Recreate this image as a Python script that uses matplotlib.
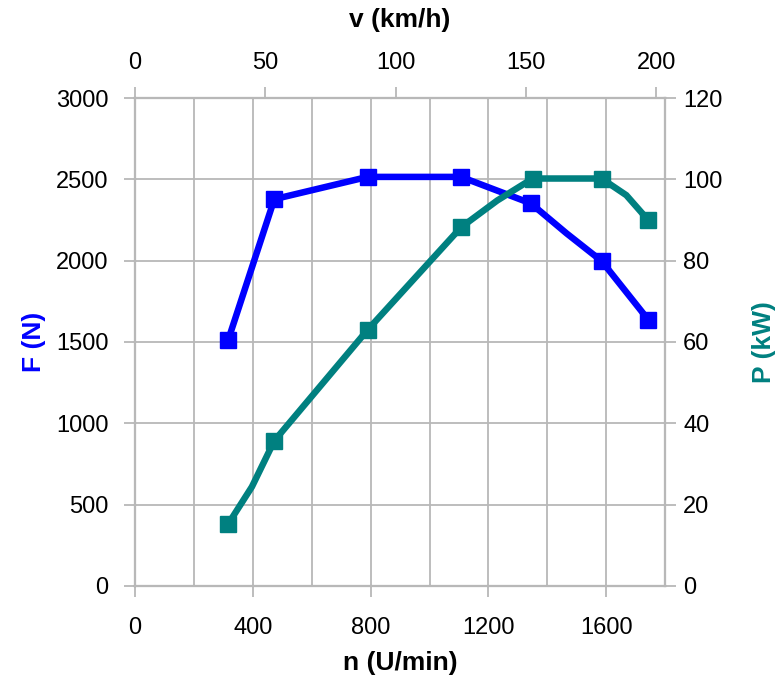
import matplotlib.pyplot as plt
from matplotlib.ticker import MultipleLocator

plt.rcParams['font.family'] = ['Liberation Sans', 'DejaVu Sans']

# Zugkraft F (N) ueber Drehzahl n (U/min)
n_F = [316, 473, 790, 1107, 1344, 1465, 1584, 1742]
F = [1510, 2378, 2515, 2515, 2352, 2168, 1998, 1638]
F_marks = [0, 1, 2, 3, 4, 6, 7]

# Leistung P (kW) ueber Drehzahl n (U/min)
n_P = [316, 397, 473, 790, 1107, 1230, 1350, 1584, 1668, 1742]
P = [15.2, 24.4, 35.7, 63.0, 88.2, 94.8, 100.2, 100.2, 96.1, 90.0]
P_marks = [0, 2, 3, 4, 6, 7, 9]

blue = '#0000ff'
teal = '#008080'
gray = '#b8b8b8'
fs = 17
lfs = 19

fig = plt.figure(figsize=(7.78, 6.82), dpi=100)
ax = fig.add_axes([0.1735, 0.1408, 0.6815, 0.7155])
ax2 = ax.twinx()
ax3 = ax.twiny()

ax.set_xlim(0, 1800)
ax.set_ylim(0, 3000)
ax2.set_ylim(0, 120)
ax3.set_xlim(0, 203.4)

ax.xaxis.set_major_locator(MultipleLocator(400))
ax.xaxis.set_minor_locator(MultipleLocator(200))
ax.yaxis.set_major_locator(MultipleLocator(500))
ax2.yaxis.set_major_locator(MultipleLocator(20))
ax3.xaxis.set_major_locator(MultipleLocator(50))

ax.grid(True, which='both', axis='x', color=gray, lw=1.3)
ax.grid(True, which='major', axis='y', color=gray, lw=1.3)
ax.set_axisbelow(True)

for a in (ax, ax2, ax3):
    for s in a.spines.values():
        s.set_color(gray)
        s.set_linewidth(1.5)
    a.tick_params(which='major', length=8, width=1.3, color=gray,
                  labelsize=fs)
    a.tick_params(which='minor', length=0)
ax.tick_params(axis='x', pad=14)
ax.tick_params(axis='y', pad=11)
ax2.tick_params(axis='y', pad=5)
ax3.tick_params(axis='x', pad=9)

ax.plot(n_F, F, color=blue, lw=4.7, marker='s', markersize=12,
        markevery=F_marks, solid_joinstyle='miter', clip_on=False)
ax2.plot(n_P, P, color=teal, lw=4.7, marker='s', markersize=12,
         markevery=P_marks, solid_joinstyle='miter', clip_on=False)

ax.set_xlabel('n (U/min)', fontsize=lfs, fontweight='bold', labelpad=9)
ax.set_ylabel('F (N)', fontsize=lfs, fontweight='bold', color=blue, labelpad=7)
ax2.set_ylabel('P (kW)', fontsize=lfs, fontweight='bold', color=teal, labelpad=21)
ax3.set_xlabel('v (km/h)', fontsize=lfs, fontweight='bold', labelpad=18)

fig.savefig('out.png', dpi=100)
